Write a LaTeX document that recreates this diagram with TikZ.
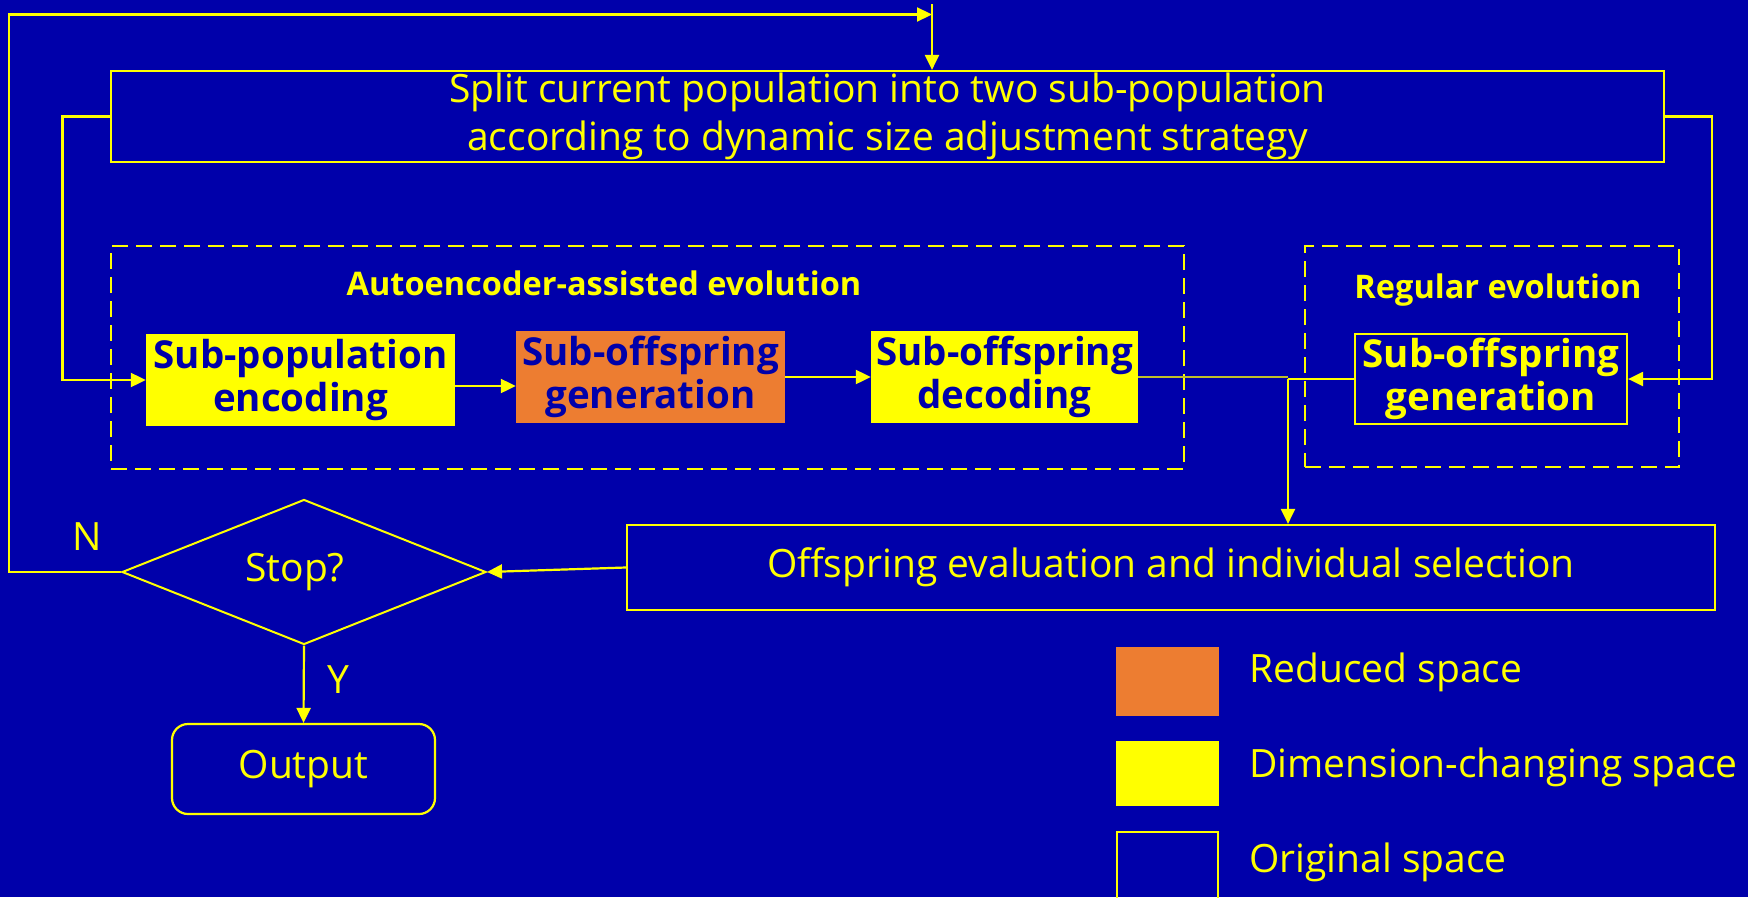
\documentclass[tikz,border=0pt]{standalone}
\usepackage{fontspec}
\setmainfont{Open Sans}
\usetikzlibrary{arrows.meta,shapes.geometric}
\definecolor{bg}{RGB}{0,0,170}
\definecolor{ylw}{RGB}{255,255,0}
\definecolor{org}{RGB}{237,125,49}

\begin{document}
\begin{tikzpicture}[x=1pt,y=-1pt,
  line/.style={draw=ylw, line width=2.2pt},
  thinline/.style={draw=ylw!75!bg, line width=1.3pt},
  arr/.style={line, -{Triangle[length=15pt,width=14pt]}},
  regtext/.style={text=ylw, font=\fontsize{39}{48}\selectfont, align=center},
  boldtext/.style={font=\fontsize{38.5}{43}\bfseries\selectfont, align=center, inner sep=0pt},
  grouplabel/.style={text=ylw, inner sep=0pt, font=\fontsize{32.5}{38}\bfseries\selectfont},
  plainbox/.style={draw=ylw, line width=2.2pt, inner sep=0pt},
  groupbox/.style={draw=ylw, line width=2.6pt, dash pattern=on 16pt off 8pt, inner sep=0pt},
  fillbox/.style={boldtext, text=bg, minimum height=92pt},
  legendsq/.style={inner sep=0pt, minimum width=103pt}
]
% canvas
\fill[bg] (0,0) rectangle (1748,897);
\useasboundingbox (0,0) rectangle (1748,897);

% main blocks
\node[plainbox, regtext, minimum width=1553pt, minimum height=91pt] (split) at (887.5,116.5)
  {Split current population into two sub-population\\according to dynamic size adjustment strategy};

\node[groupbox, minimum width=1073pt, minimum height=223pt] (aegroup) at (647.5,357.5) {};
\node[grouplabel] (aelabel) at (604,283) {Autoencoder-assisted evolution};
\node[fillbox, fill=ylw, minimum width=309pt] (enc) at (300.5,380) {Sub-population\\encoding};
\node[fillbox, fill=org, minimum width=269pt] (gen) at (650.5,377) {Sub-offspring\\generation};
\node[fillbox, fill=ylw, minimum width=267pt] (dec) at (1004.5,377) {Sub-offspring\\decoding};

\node[groupbox, minimum width=374pt, minimum height=221pt] (reggroup) at (1492,356.5) {};
\node[grouplabel] (reglabel) at (1498,290) {Regular evolution};
\node[plainbox, boldtext, text=ylw, minimum width=272pt, minimum height=90pt] (reg) at (1491,379) {Sub-offspring\\generation};

\node[plainbox, regtext, minimum width=1088pt, minimum height=85pt] (eval) at (1171,567.5)
  {Offspring evaluation and individual selection};

\node[diamond, draw=ylw, line width=2pt, inner sep=0pt, minimum width=364pt, minimum height=145pt] (stop) at (304,572) {};
\node[regtext, inner sep=0pt] (stoptext) at (295,572) {Stop?};
\node[plainbox, regtext, rounded corners=16pt, minimum width=263pt, minimum height=90pt] (out) at (303.5,769) {Output};

\node[regtext, inner sep=0pt] (nlab) at (87,537) {N};
\node[regtext, inner sep=0pt] (ylab) at (338,680) {Y};

% legend
\node[legendsq, fill=org, minimum height=69pt] (lred) at (1167,681.5) {};
\node[legendsq, fill=ylw, minimum height=65pt] (ldim) at (1167,773.5) {};
\node[plainbox, minimum width=101pt, minimum height=76pt] (lorg) at (1167.5,870) {};
\node[regtext, anchor=west, inner sep=0pt] (tred) at (1249,672) {Reduced space};
\node[regtext, anchor=west, inner sep=0pt] (tdim) at (1249,767) {Dimension-changing space};
\node[regtext, anchor=west, inner sep=0pt] (torg) at (1249,862) {Original space};

% connectors
\coordinate (feed) at (932,4);
\coordinate (loopc) at (9,14.5);
\coordinate (loopend) at (932,14.5);
\coordinate (join) at (1288,379);

\draw[arr] (feed) -- (feed |- split.north);
\draw[arr] (stop.west) -| (loopc) -- (loopend);
\draw[arr] (split.west) -- ++(-47.5,0) |- (enc.west);
\draw[arr] (split.east) -- ++(47,0) |- (reg.east);
\draw[arr] ([yshift=-6pt]enc.east) -- ([yshift=-6pt]enc.east -| gen.west);
\draw[arr] (gen.east) -- (dec.west);
\draw[thinline] (dec.east) -- (dec.east -| join);
\draw[line] (reg.west) -- (join);
\draw[arr] (join) -- (join |- eval.north);
\draw[arr] (eval.west) -- (stop.east);
\draw[arr] (stop.south) -- (out.north);
\end{tikzpicture}
\end{document}
